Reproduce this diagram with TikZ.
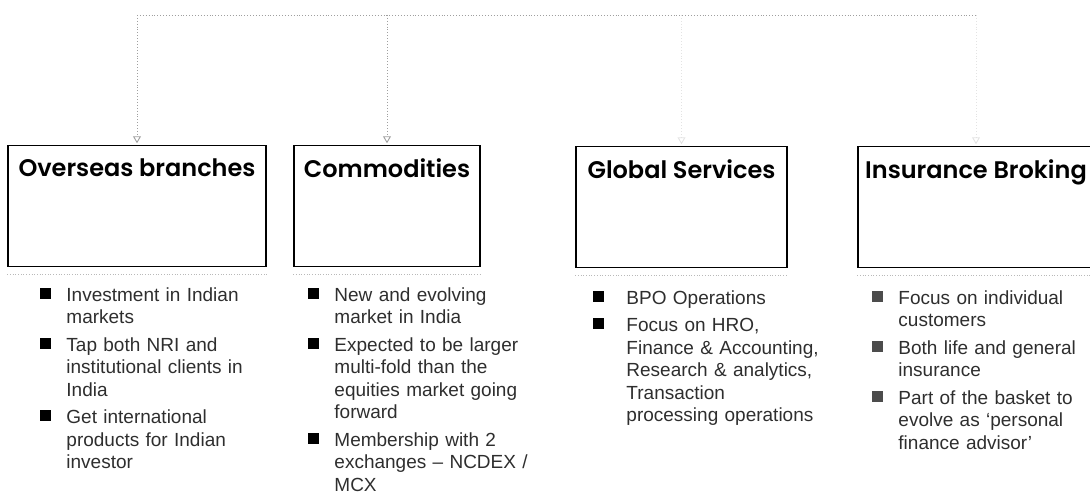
\documentclass[tikz,border=0pt]{standalone}
\usepackage{fontspec}
\setmainfont{Liberation Sans}
\newfontfamily\headfont{Poppins SemiBold}
\usetikzlibrary{positioning, arrows.meta, calc}

\newlength{\bulind}
\setlength{\bulind}{26pt}
\colorlet{bulcol}{black}
\newcommand{\itm}[1]{\noindent\hangindent=\bulind\hangafter=1%
  \makebox[\bulind][l]{\textcolor{bulcol}{\rule[2.5pt]{10.5pt}{11pt}}}#1\par}

\begin{document}
\begin{tikzpicture}[
  x=1pt, y=-1pt,
  unit/.style={
    draw,
    line width=1.5pt,
    minimum height=121pt,
    inner sep=0pt,
  },
  head/.style={
    font=\headfont\fontsize{24}{27}\selectfont,
    inner sep=0pt,
  },
  facts/.style={
    inner sep=0pt,
    align=left,
    text width=#1,
    text=black!82,
    font=\fontsize{19}{22.5}\selectfont,
    execute at begin node={\setlength{\parskip}{5pt}},
  },
  bus/.style={gray!75, dotted, line width=0.9pt},
  feed/.style={gray!75, dotted, line width=0.9pt, shorten >=1.5pt,
    -{Triangle[open, length=7pt, width=8pt]}},
  sepline/.style={gray!55, dotted, line width=0.7pt},
]
\useasboundingbox (0,0) rectangle (1090,495);
\clip (0,0) rectangle (1090,495);

% --- units ---
\node[unit, minimum width=258pt] (Overseas) at (137,206) {};
\node[unit, minimum width=186pt] (Commodities) at (387,206) {};
\node[unit, minimum width=211pt] (Global) at (681.5,207) {};
\node[unit, minimum width=236pt] (Insurance) at (976,207) {};

\node[head, below=14pt of Overseas.north] (OverseasHead) {Overseas branches};
\node[head, below=14pt of Commodities.north] (CommoditiesHead) {Commodities};
\node[head, below=14pt of Global.north] (GlobalHead) {Global Services};
\node[head, below=14pt of Insurance.north] (InsuranceHead) {Insurance Broking};

% --- feed from the top ---
\coordinate (busW) at (137,15);
\coordinate (busE) at (Insurance.north |- busW);
\draw[bus] (busW) -- (busE);
\draw[feed] (busW) -- (Overseas.north);
\draw[feed] (Commodities.north |- busW) -- (Commodities.north);
\draw[feed, gray!22] (Global.north |- busW) -- (Global.north);
\draw[feed, gray!22] (busE) -- (Insurance.north);

% dotted rule under each unit
\foreach \u in {Overseas, Commodities, Global, Insurance}
  \draw[sepline] ([yshift=-7pt]\u.south west) -- ([yshift=-7pt]\u.south east);

% --- Overseas branches ---
\node[facts=225pt, anchor=north west, below right=20pt and 33pt of Overseas.south west] (OverseasFacts) {
  \itm{Investment in Indian\newline markets}
  \itm{Tap both NRI and\newline institutional clients in\newline India}
  \itm{Get international\newline products for Indian\newline investor}
};

% --- Commodities ---
\node[facts=225pt, anchor=north west, below right=20pt and 15pt of Commodities.south west] (CommoditiesFacts) {
  \itm{New and evolving\newline market in India}
  \itm{Expected to be larger\newline multi-fold than the\newline equities market going\newline forward}
  \itm{Membership with 2\newline exchanges -- NCDEX /\newline MCX}
};

% --- Global Services ---
\node[facts=240pt, anchor=north west, below right=22pt and 18pt of Global.south west,
  execute at begin node={\setlength{\bulind}{33pt}}] (GlobalFacts) {
  \itm{BPO Operations}
  \itm{Focus on HRO,\newline Finance \& Accounting,\newline Research \& analytics,\newline Transaction\newline processing operations}
};

% --- Insurance Broking ---
\node[facts=210pt, anchor=north west, below right=22pt and 15pt of Insurance.south west,
  execute at begin node={\colorlet{bulcol}{black!70}}] (InsuranceFacts) {
  \itm{Focus on individual\newline customers}
  \itm{Both life and general\newline insurance}
  \itm{Part of the basket to\newline evolve as ‘personal\newline finance advisor’}
};

\end{tikzpicture}
\end{document}
